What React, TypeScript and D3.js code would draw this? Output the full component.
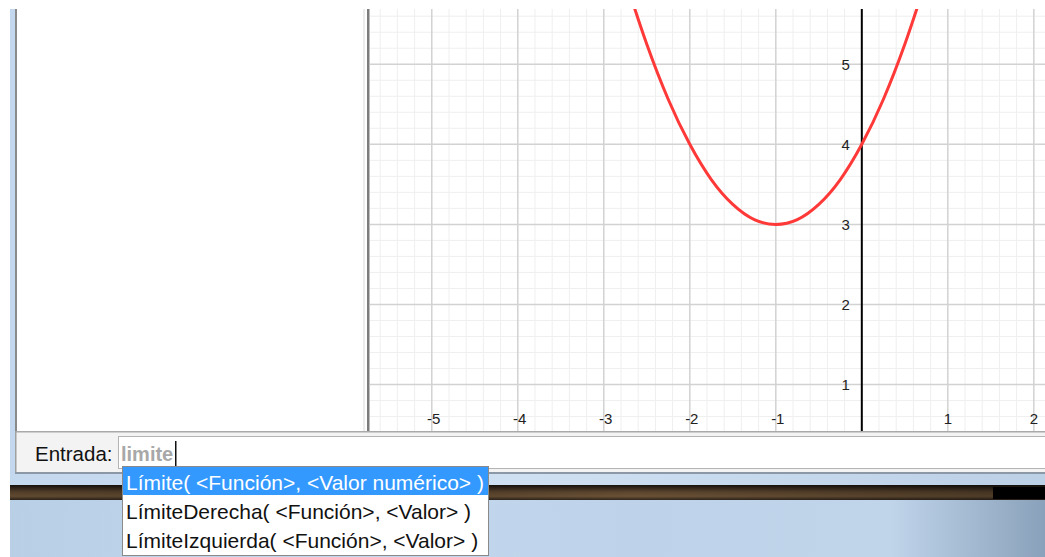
import React from "react";
import * as d3 from "d3";

// ---- data ----
const curveX = [-2.7, -2.5, -2.25, -2, -1.75, -1.5, -1.25, -1, -0.75, -0.5, -0.25, 0, 0.25, 0.5, 0.7];
const curveY = [5.89, 5.25, 4.56, 4, 3.56, 3.25, 3.06, 3, 3.06, 3.25, 3.56, 4, 4.56, 5.25, 5.89];
const xTickLabels = [-5, -4, -3, -2, -1, 1, 2];
const yTickLabels = [1, 2, 3, 4, 5];
const inputLabel = "Entrada:";
const inputText = "limite";
const suggestions = [
  "Límite( <Función>, <Valor numérico> )",
  "LímiteDerecha( <Función>, <Valor> )",
  "LímiteIzquierda( <Función>, <Valor> )",
];

// ---- layout ----
const W = 1045;
const H = 557;
const G = { left: 369, right: 1045, top: 9, bottom: 431 };
const xDomain: [number, number] = [-5.73, 2.13];
const yDomain: [number, number] = [0.42, 5.69];

export default function App() {
  const x = d3.scaleLinear().domain(xDomain).range([G.left, G.right]);
  const y = d3.scaleLinear().domain(yDomain).range([G.bottom, G.top]);

  const minorX = d3.range(Math.ceil(xDomain[0] * 5), Math.floor(xDomain[1] * 5) + 1).filter((v) => v % 5 !== 0).map((v) => v / 5);
  const majorX = d3.range(Math.ceil(xDomain[0]), Math.floor(xDomain[1]) + 1).filter((v) => v !== 0);
  const minorY = d3.range(Math.ceil(yDomain[0] * 5), Math.floor(yDomain[1] * 5) + 1).filter((v) => v % 5 !== 0).map((v) => v / 5);
  const majorY = d3.range(Math.ceil(yDomain[0]), Math.floor(yDomain[1]) + 1);

  const pts = curveX.map((v, i) => [v, curveY[i]] as [number, number]);
  const line = d3
    .line<[number, number]>()
    .x((d) => x(d[0]))
    .y((d) => y(d[1]))
    .curve(d3.curveNatural);

  const font = "'Liberation Sans', Arial, sans-serif";

  return (
    <div style={{ position: "absolute", left: 0, top: 0 }}>
      <svg width={W} height={H} style={{ display: "block" }} fontFamily={font}>
        <defs>
          <clipPath id="gclip">
            <rect x={G.left} y={G.top} width={G.right - G.left} height={G.bottom - G.top} />
          </clipPath>
          <linearGradient id="brown" x1="0" y1="0" x2="0" y2="1">
            <stop offset="0" stopColor="#17120e" />
            <stop offset="0.45" stopColor="#5a442d" />
            <stop offset="0.75" stopColor="#6b5236" />
            <stop offset="1" stopColor="#2e241b" />
          </linearGradient>
          <linearGradient id="brownH" x1="0" y1="0" x2="1" y2="0">
            <stop offset="0" stopColor="#000" stopOpacity="0.1" />
            <stop offset="0.3" stopColor="#000" stopOpacity="0.25" />
            <stop offset="0.6" stopColor="#000" stopOpacity="0" />
            <stop offset="1" stopColor="#000" stopOpacity="0.3" />
          </linearGradient>
          <linearGradient id="sky" x1="0" y1="0" x2="1" y2="0">
            <stop offset="0" stopColor="#b9cfe6" />
            <stop offset="0.35" stopColor="#c3d8ed" />
            <stop offset="0.6" stopColor="#bed3e9" />
            <stop offset="0.85" stopColor="#c0d5ea" />
            <stop offset="1" stopColor="#8aa1bb" />
          </linearGradient>
          <linearGradient id="frame" x1="0" y1="0" x2="1" y2="0">
            <stop offset="0" stopColor="#c4d8ee" />
            <stop offset="0.5" stopColor="#cfe0f2" />
            <stop offset="1" stopColor="#bcd0e6" />
          </linearGradient>
        </defs>

        <rect x={0} y={0} width={W} height={H} fill="#ffffff" />

        {/* window frame left strip */}
        <rect x={10} y={G.top} width={5} height={474 - G.top} fill="#c3d8ee" />
        {/* left panel */}
        <rect x={15} y={G.top} width={2} height={G.bottom - G.top} fill="#8a8a8a" />
        <rect x={17} y={G.top} width={346} height={G.bottom - G.top} fill="#ffffff" />
        <rect x={363} y={G.top} width={2} height={G.bottom - G.top} fill="#ececec" />
        <rect x={367} y={G.top} width={2} height={G.bottom - G.top} fill="#7c7c7c" />

        {/* graphics view */}
        <g clipPath="url(#gclip)">
          <rect x={G.left} y={G.top} width={G.right - G.left} height={G.bottom - G.top} fill="#ffffff" />
          {minorX.map((v) => (
            <line key={"mx" + v} x1={x(v)} x2={x(v)} y1={G.top} y2={G.bottom} stroke="#efefef" strokeWidth={1} />
          ))}
          {minorY.map((v) => (
            <line key={"my" + v} y1={y(v)} y2={y(v)} x1={G.left} x2={G.right} stroke="#efefef" strokeWidth={1} />
          ))}
          {majorX.map((v) => (
            <line key={"Mx" + v} x1={x(v)} x2={x(v)} y1={G.top} y2={G.bottom} stroke="#d2d2d2" strokeWidth={1.5} />
          ))}
          {majorY.map((v) => (
            <line key={"My" + v} y1={y(v)} y2={y(v)} x1={G.left} x2={G.right} stroke="#d2d2d2" strokeWidth={1.5} />
          ))}
          {/* y axis */}
          <line x1={x(0)} x2={x(0)} y1={G.top} y2={G.bottom} stroke="#000" strokeWidth={2} />
          {/* tick labels */}
          {xTickLabels.map((v) => (
            <text key={"xl" + v} x={x(v) + (v < 0 ? 2 : 0)} y={424} textAnchor="middle" fontSize={15} fill="#222">
              {v < 0 ? "-" + Math.abs(v) : String(v)}
            </text>
          ))}
          {yTickLabels.map((v) => (
            <text key={"yl" + v} x={x(0) - 12} y={y(v) + 5.5} textAnchor="end" fontSize={15} fill="#222">
              {v}
            </text>
          ))}
          {/* function */}
          <path d={line(pts) || ""} fill="none" stroke="#ff3838" strokeWidth={3} strokeLinejoin="round" />
        </g>
        <rect x={369} y={G.top} width={1} height={G.bottom - G.top} fill="#bdbdbd" />

        {/* input bar */}
        <rect x={15} y={431} width={W - 15} height={43} fill="#f3f3f3" />
        <rect x={15} y={431} width={W - 15} height={1.5} fill="#a9a9a9" />
        <rect x={15} y={431} width={1.5} height={43} fill="#a0a0a0" />
        <rect x={15} y={472} width={W - 15} height={2} fill="#8d98a6" />
        <text x={35} y={461} fontSize={20.5} fill="#111">{inputLabel}</text>
        <rect x={118.5} y={436.5} width={W} height={32} fill="#ffffff" stroke="#b4b4b4" />
        <text x={121} y={461} fontSize={20} fontWeight="bold" fill="#a8a8a8">{inputText}</text>
        <rect x={175} y={441} width={1.5} height={26} fill="#111" />

        {/* window frame bottom */}
        <rect x={10} y={474} width={W - 10} height={11} fill="url(#frame)" />
        <rect x={10} y={485} width={W - 10} height={15} fill="url(#brown)" />
        <rect x={10} y={485} width={W - 10} height={15} fill="url(#brownH)" />
        <rect x={993} y={487} width={52} height={12} fill="#000" />
        <rect x={10} y={500} width={W - 10} height={H - 500} fill="url(#sky)" />

        {/* suggestions dropdown */}
        <rect x={122.5} y={466.5} width={366} height={89} fill="#ffffff" stroke="#8a8a8a" />
        <rect x={123} y={467} width={365} height={28} fill="#3399ff" />
        {suggestions.map((s, i) => (
          <text key={s} x={126} y={490 + i * 29} fontSize={21} fill={i === 0 ? "#ffffff" : "#111"}>
            {s}
          </text>
        ))}
      </svg>
    </div>
  );
}
